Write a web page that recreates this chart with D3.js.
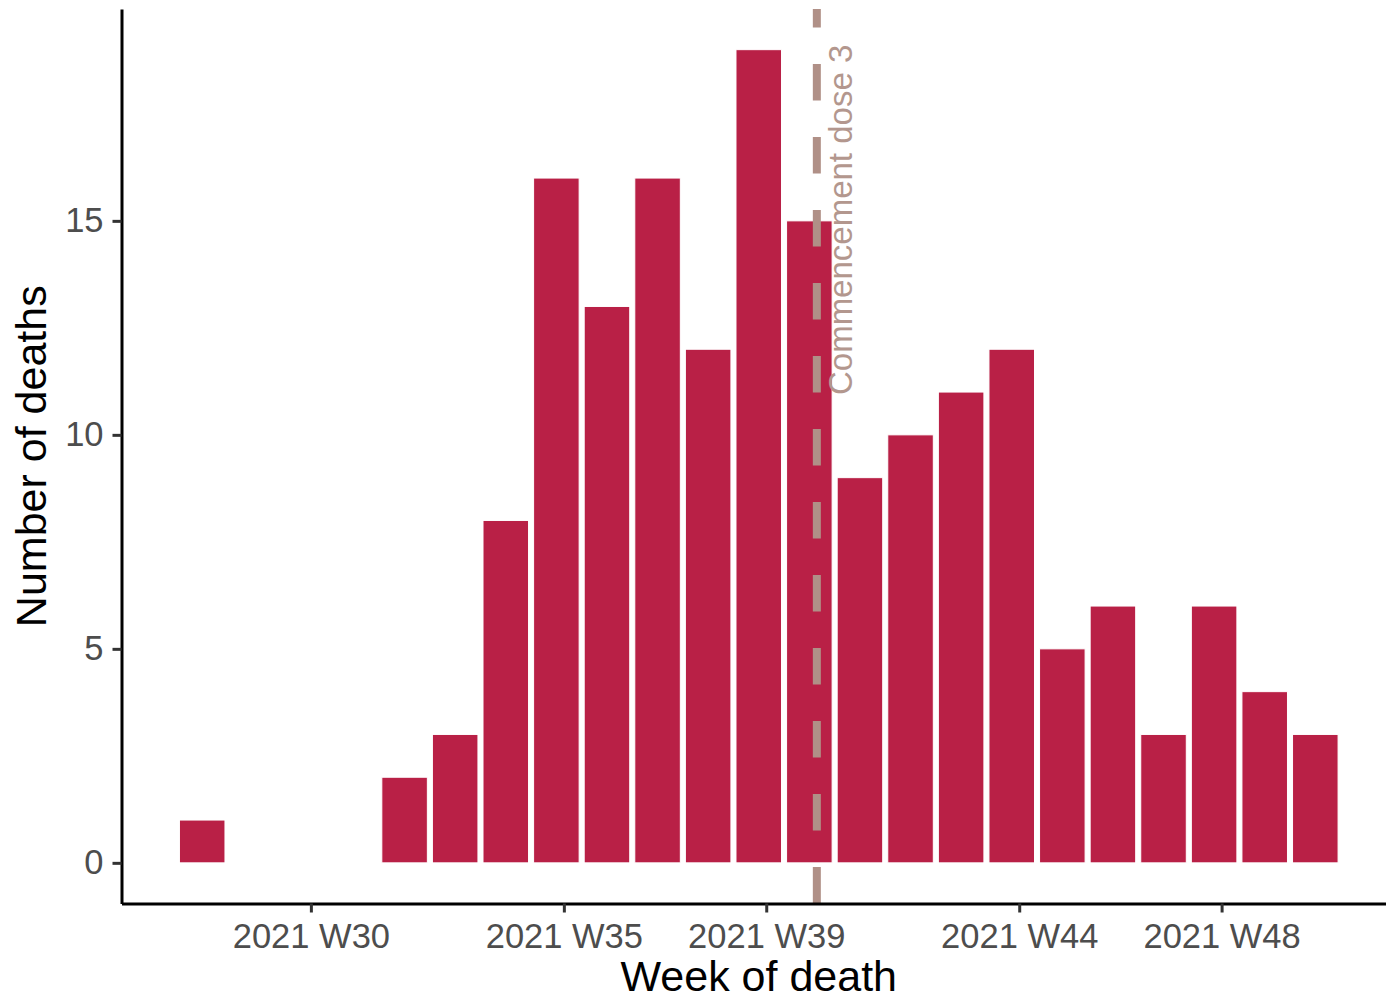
<!DOCTYPE html>
<html>
<head>
<meta charset="utf-8">
<script src="https://cdn.jsdelivr.net/npm/d3@7"></script>
<style>
  body { margin: 0; background: #fff; }
  text { font-family: "Liberation Sans", Arial, sans-serif; }
</style>
</head>
<body>
<div id="chart"></div>
<script>
// Deaths per ISO week (2021)
const weeks = [28, 32, 33, 34, 35, 36, 37, 38, 39, 40, 41, 42, 43, 44, 45, 46, 47, 48, 49, 50];
const deaths = [1, 2, 3, 8, 16, 13, 16, 12, 19, 15, 9, 10, 11, 12, 5, 6, 3, 6, 4, 3];
const xTicks = [30, 35, 39, 44, 48];
const yTicks = [0, 5, 10, 15];
const doseWeek = 40;
const doseLabel = "Commencement dose 3";

const width = 1386, height = 1001;
const panel = { left: 121.5, right: 1396, top: 9, bottom: 903.5 };

// bars sit a day before the week tick, 0.9 week wide
const barShift = -0.148, barWidth = 0.9;

const data = weeks.map((w, i) => ({ week: w, n: deaths[i] }));

const svg = d3.select("#chart").append("svg")
    .attr("width", width)
    .attr("height", height);

// ggplot style 5% expansion
const xMin = d3.min(weeks) + barShift - barWidth / 2;
const xMax = d3.max(weeks) + barShift + barWidth / 2;
const xPad = (xMax - xMin) * 0.05;
const xScale = d3.scaleLinear()
    .domain([xMin - xPad, xMax + xPad])
    .range([panel.left, panel.right]);

const yMax = d3.max(deaths);
const yScale = d3.scaleLinear()
    .domain([-yMax * 0.05, yMax * 1.05])
    .range([panel.bottom, panel.top]);

// bars
svg.append("g").selectAll("rect")
    .data(data)
    .enter().append("rect")
    .attr("x", d => xScale(d.week + barShift - barWidth / 2))
    .attr("width", d => xScale(d.week + barShift + barWidth / 2) - xScale(d.week + barShift - barWidth / 2))
    .attr("y", d => yScale(d.n))
    .attr("height", d => yScale(0) - yScale(d.n))
    .attr("fill", "#b92046")
    .attr("stroke", "#ffffff")
    .attr("stroke-width", 1);

// dose 3 line, drawn bottom up so dashes start at the axis
svg.append("line")
    .attr("x1", xScale(doseWeek))
    .attr("x2", xScale(doseWeek))
    .attr("y1", panel.bottom)
    .attr("y2", panel.top)
    .attr("stroke", "#b09087")
    .attr("stroke-width", 8)
    .attr("stroke-dasharray", "36.5 36.5");

svg.append("text")
    .attr("transform", `translate(${xScale(doseWeek + 0.69)}, ${yScale(10.93)}) rotate(-90)`)
    .attr("text-anchor", "start")
    .attr("font-size", 33)
    .attr("fill", "#b3978e")
    .text(doseLabel);

// x axis
const xAxis = svg.append("g")
    .attr("transform", `translate(0, ${panel.bottom})`)
    .call(d3.axisBottom(xScale).tickValues(xTicks).tickSize(9).tickSizeOuter(0)
        .tickFormat(d => `2021 W${d}`));
xAxis.select(".domain").attr("stroke", "#000").attr("stroke-width", 3);
xAxis.selectAll(".tick line").attr("stroke", "#333").attr("stroke-width", 3);
xAxis.selectAll(".tick text")
    .attr("font-size", 34.5)
    .attr("fill", "#4d4d4d")
    .attr("dy", null)
    .attr("y", 44.5);

// y axis
const yAxis = svg.append("g")
    .attr("transform", `translate(${panel.left}, 0)`)
    .call(d3.axisLeft(yScale).tickValues(yTicks).tickSize(9).tickSizeOuter(0).tickPadding(9));
yAxis.select(".domain").attr("stroke", "#000").attr("stroke-width", 3);
yAxis.selectAll(".tick line").attr("stroke", "#333").attr("stroke-width", 3);
yAxis.selectAll(".tick text")
    .attr("font-size", 34.5)
    .attr("fill", "#4d4d4d");

// axis titles
svg.append("text")
    .attr("x", (panel.left + panel.right) / 2)
    .attr("y", 991)
    .attr("text-anchor", "middle")
    .attr("font-size", 43)
    .attr("fill", "#000")
    .text("Week of death");

svg.append("text")
    .attr("transform", `translate(46, ${(panel.top + panel.bottom) / 2}) rotate(-90)`)
    .attr("text-anchor", "middle")
    .attr("font-size", 43)
    .attr("fill", "#000")
    .text("Number of deaths");
</script>
</body>
</html>
